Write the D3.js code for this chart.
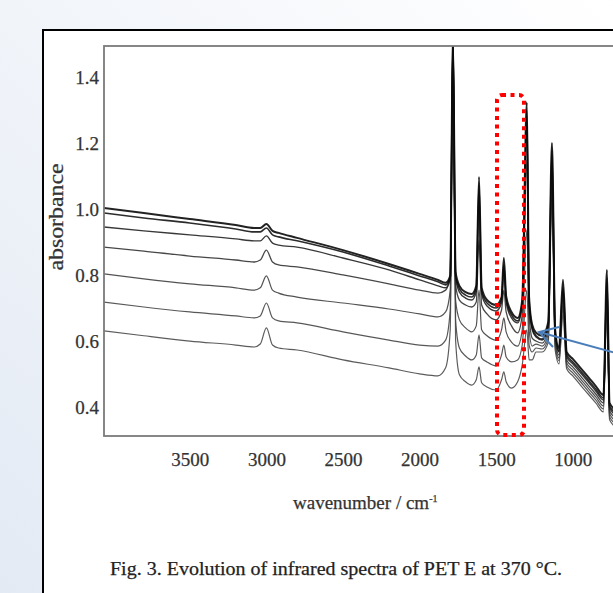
<!DOCTYPE html>
<html><head><meta charset="utf-8">
<script src="https://cdn.jsdelivr.net/npm/d3@7"></script>
<style>html,body{margin:0;padding:0;overflow:hidden;background:#fff} svg{display:block}</style>
</head><body><svg id="c" width="613" height="593"></svg>
<script>
// wavenumber grid (cm^-1)
const wavenumbers = [4060, 3800, 3500, 3200, 3080, 3040, 3000, 2960, 2920, 2800,
  2500, 2200, 2000, 1880, 1830, 1800, 1782, 1765, 1740, 1700,
  1660, 1630, 1612, 1595, 1560, 1500, 1465, 1450, 1435, 1400,
  1360, 1330, 1300, 1285, 1265, 1240, 1200, 1160, 1136, 1115,
  1090, 1064, 1040, 1000, 950, 900, 850, 800, 777, 760,
  700, 600, 500, 400];

// absorbance spectra (top to bottom at 4000 cm^-1)
const spectrum1 = [1.004, 0.989, 0.971, 0.953, 0.944, 0.944, 0.956, 0.935, 0.929, 0.914,
  0.877, 0.835, 0.805, 0.787, 0.778, 0.799, 1.52, 0.811, 0.769, 0.750,
  0.744, 0.769, 1.098, 0.763, 0.726, 0.711, 0.735, 0.853, 0.738, 0.690,
  0.672, 0.726, 1.324, 0.732, 0.651, 0.627, 0.618, 0.660, 1.201, 0.636,
  0.581, 0.787, 0.569, 0.548, 0.521, 0.494, 0.466, 0.439, 0.817, 0.415,
  0.385, 0.340, 0.288, 0.243];
const spectrum2 = [0.989, 0.974, 0.959, 0.941, 0.932, 0.932, 0.944, 0.923, 0.917, 0.905,
  0.871, 0.829, 0.799, 0.781, 0.772, 0.793, 1.52, 0.802, 0.760, 0.741,
  0.735, 0.760, 1.074, 0.753, 0.717, 0.702, 0.726, 0.832, 0.729, 0.681,
  0.663, 0.717, 1.300, 0.723, 0.642, 0.618, 0.608, 0.651, 1.179, 0.627,
  0.572, 0.763, 0.560, 0.539, 0.512, 0.485, 0.457, 0.430, 0.793, 0.406,
  0.376, 0.331, 0.279, 0.234];
const spectrum3 = [0.947, 0.935, 0.923, 0.911, 0.905, 0.905, 0.920, 0.898, 0.892, 0.886,
  0.853, 0.817, 0.787, 0.769, 0.763, 0.787, 1.52, 0.793, 0.750, 0.732,
  0.726, 0.750, 1.043, 0.744, 0.708, 0.693, 0.717, 0.817, 0.720, 0.672,
  0.657, 0.708, 1.270, 0.714, 0.636, 0.614, 0.605, 0.648, 1.164, 0.624,
  0.569, 0.756, 0.554, 0.533, 0.506, 0.479, 0.451, 0.424, 0.781, 0.400,
  0.370, 0.324, 0.273, 0.228];
const spectrum4 = [0.886, 0.874, 0.859, 0.847, 0.841, 0.847, 0.877, 0.841, 0.832, 0.826,
  0.802, 0.775, 0.756, 0.747, 0.756, 0.802, 1.52, 0.772, 0.726, 0.711,
  0.705, 0.720, 0.908, 0.711, 0.684, 0.666, 0.696, 0.756, 0.690, 0.648,
  0.627, 0.681, 1.149, 0.681, 0.611, 0.602, 0.596, 0.636, 1.134, 0.611,
  0.560, 0.732, 0.545, 0.524, 0.497, 0.469, 0.442, 0.415, 0.756, 0.391,
  0.361, 0.315, 0.264, 0.219];
const spectrum5 = [0.805, 0.790, 0.775, 0.763, 0.756, 0.763, 0.799, 0.756, 0.747, 0.735,
  0.717, 0.699, 0.684, 0.675, 0.690, 0.756, 1.52, 0.726, 0.666, 0.642,
  0.630, 0.648, 0.756, 0.636, 0.618, 0.605, 0.636, 0.672, 0.630, 0.599,
  0.587, 0.636, 0.938, 0.636, 0.587, 0.593, 0.587, 0.624, 1.104, 0.599,
  0.551, 0.711, 0.536, 0.515, 0.488, 0.460, 0.433, 0.406, 0.741, 0.382,
  0.352, 0.306, 0.255, 0.210];
const spectrum6 = [0.720, 0.705, 0.690, 0.678, 0.672, 0.678, 0.717, 0.672, 0.663, 0.657,
  0.630, 0.605, 0.590, 0.587, 0.605, 0.696, 1.52, 0.666, 0.581, 0.557,
  0.545, 0.560, 0.621, 0.551, 0.539, 0.527, 0.560, 0.590, 0.554, 0.539,
  0.545, 0.590, 0.756, 0.590, 0.569, 0.581, 0.578, 0.611, 1.074, 0.587,
  0.542, 0.696, 0.527, 0.506, 0.479, 0.451, 0.424, 0.397, 0.726, 0.373,
  0.343, 0.297, 0.246, 0.201];
const spectrum7 = [0.633, 0.618, 0.602, 0.590, 0.584, 0.593, 0.642, 0.590, 0.581, 0.575,
  0.545, 0.521, 0.503, 0.497, 0.521, 0.636, 1.52, 0.605, 0.500, 0.479,
  0.469, 0.485, 0.524, 0.476, 0.463, 0.454, 0.485, 0.509, 0.479, 0.460,
  0.479, 0.530, 0.636, 0.545, 0.545, 0.569, 0.569, 0.599, 1.043, 0.575,
  0.533, 0.681, 0.518, 0.497, 0.469, 0.442, 0.415, 0.388, 0.711, 0.364,
  0.334, 0.288, 0.237, 0.191];

const yTicks = [0.4, 0.6, 0.8, 1.0, 1.2, 1.4];
const xTicks = [3500, 3000, 2500, 2000, 1500, 1000];

const xTitle = "wavenumber / cm";
const yTitle = "absorbance";
const caption = "Fig. 3. Evolution of infrared spectra of PET E at 370 \u00B0C.";

const seriesList = [spectrum7, spectrum6, spectrum5, spectrum4, spectrum3, spectrum2, spectrum1];
const seriesStyle = [
  {c: "#4a4a4a", w: 1.2}, {c: "#464646", w: 1.2}, {c: "#404040", w: 1.2},
  {c: "#333", w: 1.3}, {c: "#222", w: 1.4}, {c: "#151515", w: 1.6}, {c: "#0a0a0a", w: 2.0}
];

const svg = d3.select("#c");
const defs = svg.append("defs");
const grad = defs.append("linearGradient").attr("id", "bg")
  .attr("x1", 1).attr("y1", 0).attr("x2", 0).attr("y2", 1);
grad.append("stop").attr("offset", 0).attr("stop-color", "#ffffff");
grad.append("stop").attr("offset", 1).attr("stop-color", "#e3eaf4");
svg.append("rect").attr("width", 613).attr("height", 593).attr("fill", "url(#bg)");

// outer figure box
svg.append("rect").attr("x", 43).attr("y", 30).attr("width", 620).attr("height", 620)
  .attr("fill", "#fff").attr("stroke", "#000").attr("stroke-width", 2);

const x = d3.scaleLinear().domain([4060, 400]).range([104, 664.7]);
const y = d3.scaleLinear().domain([0.315, 1.494]).range([436, 46]);

defs.append("clipPath").attr("id", "plotclip").append("rect")
  .attr("x", 104).attr("y", 46).attr("width", 600).attr("height", 390);

const line = d3.line()
  .x((d, i) => x(wavenumbers[i]))
  .y(d => y(d))
  .curve(d3.curveMonotoneX);

const gLines = svg.append("g").attr("clip-path", "url(#plotclip)");
seriesList.forEach((s, k) => {
  gLines.append("path").datum(s)
    .attr("d", line)
    .attr("fill", "none")
    .attr("stroke", seriesStyle[k].c)
    .attr("stroke-width", seriesStyle[k].w)
    .attr("stroke-linejoin", "round")
    .attr("opacity", 0.9);
});

// plot frame
svg.append("rect").attr("x", 104).attr("y", 46).attr("width", 600).attr("height", 390)
  .attr("fill", "none").attr("stroke", "#7a7a7a").attr("stroke-width", 1.8);

const fontFam = "'Liberation Serif', 'DejaVu Serif', serif";

const gy = svg.append("g").attr("transform", "translate(104,0)")
  .call(d3.axisLeft(y).tickValues(yTicks).tickFormat(d3.format(".1f")).tickSize(0).tickPadding(5));
gy.select(".domain").remove();
gy.selectAll("text").attr("font-family", fontFam).attr("font-size", 19).attr("fill", "#333")
  .attr("stroke", "#333").attr("stroke-width", 0.25);

const gx = svg.append("g").attr("transform", "translate(0,436)")
  .call(d3.axisBottom(x).tickValues(xTicks).tickFormat(d3.format("d")).tickSize(0).tickPadding(17));
gx.select(".domain").remove();
gx.selectAll("text").attr("font-family", fontFam).attr("font-size", 19).attr("fill", "#333")
  .attr("stroke", "#333").attr("stroke-width", 0.25);

// axis titles
const xt = svg.append("text").attr("x", 293).attr("y", 509)
  .attr("font-family", fontFam).attr("font-size", 19).attr("fill", "#333")
  .attr("stroke", "#333").attr("stroke-width", 0.25);
xt.append("tspan").text(xTitle);
xt.append("tspan").attr("dy", -7).attr("font-size", 10).text("-1");

svg.append("text").attr("transform", "translate(63,217) rotate(-90)")
  .attr("text-anchor", "middle").attr("font-family", fontFam).attr("font-size", 20)
  .attr("fill", "#333").attr("stroke", "#333").attr("stroke-width", 0.25)
  .attr("textLength", 107).attr("lengthAdjust", "spacingAndGlyphs")
  .text(yTitle);

svg.append("text").attr("x", 110).attr("y", 575)
  .attr("font-family", fontFam).attr("font-size", 18).attr("fill", "#222")
  .attr("stroke", "#222").attr("stroke-width", 0.25)
  .attr("textLength", 452).attr("lengthAdjust", "spacingAndGlyphs")
  .text(caption);

// red dotted highlight
svg.append("rect").attr("x", 497).attr("y", 95).attr("width", 27).attr("height", 340)
  .attr("rx", 5).attr("fill", "none").attr("stroke", "#ff0000").attr("stroke-width", 4)
  .attr("stroke-dasharray", "4 4.5");

// blue arrow
svg.append("path").attr("d", "M616,353 L539,332")
  .attr("fill", "none").attr("stroke", "#4a7ebb").attr("stroke-width", 2);
svg.append("path").attr("d", "M559,327 L539,332 L553,347")
  .attr("fill", "none").attr("stroke", "#4a7ebb").attr("stroke-width", 2);
</script></body></html>
